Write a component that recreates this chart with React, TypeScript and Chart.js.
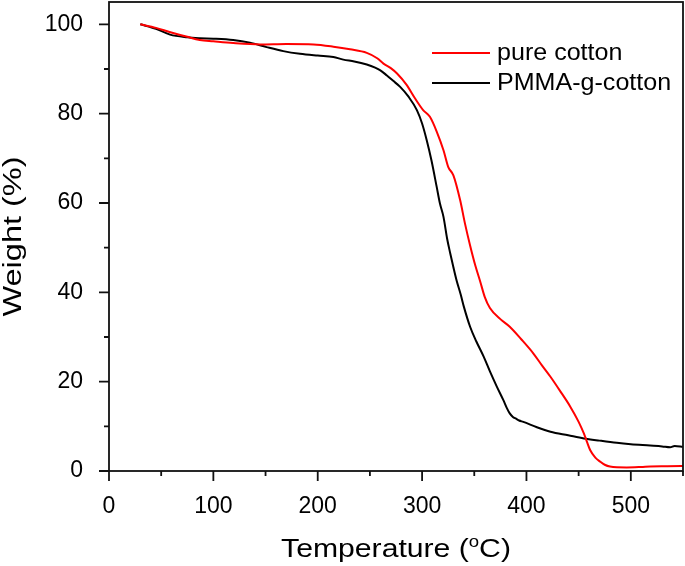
import React, { useEffect, useRef } from "react";
import { Chart, registerables } from "chart.js";

Chart.register(...registerables);

const FONT = "'Liberation Sans', Arial, Helvetica, sans-serif";

// Temperature (°C) / Weight (%)
const pureCottonTemp = [
  30, 45, 58, 75, 87, 100, 119, 145, 170, 196, 215, 231, 247, 257, 263, 270, 276, 285, 293, 301,
  307.5, 314, 320.5, 325, 330, 336.5, 341, 346, 351, 355.6, 360, 365, 375, 384, 395, 406.7, 415,
  423, 432, 442, 450, 455, 458, 461, 466, 470.6, 475, 480, 496, 510, 518.5, 535, 550,
];
const pureCottonWeight = [
  100, 99.2, 98.3, 97.2, 96.5, 96.2, 95.8, 95.5, 95.6, 95.5, 95.0, 94.4, 93.6, 92.4, 91.2, 90.2,
  89.0, 86.5, 83.5, 80.8, 79.3, 76.0, 71.8, 68.1, 66.2, 60.6, 55.5, 50.5, 46.0, 42.5, 39.0, 36.5,
  34.0, 32.3, 29.5, 26.3, 23.6, 21.1, 18.0, 14.4, 11.0, 8.4, 6.5, 4.7, 3.0, 2.1, 1.4, 1.0, 0.8,
  0.9, 1.0, 1.05, 1.1,
];

const pmmaTemp = [
  30, 45, 58.5, 75, 87, 100, 119, 135, 151, 167, 183, 200, 215, 224.5, 235, 247, 255, 260, 266,
  272, 279, 287, 295, 300, 304.5, 309, 314, 317, 320.5, 324, 327, 330, 333, 337, 340, 346, 352,
  359, 365, 371.6, 378, 381, 384, 387, 390, 393, 397, 410, 423, 440, 455, 470, 486.6, 500, 518.5,
  530, 537.7, 542, 550,
];
const pmmaWeight = [
  100, 99.0, 97.7, 97.1, 96.9, 96.8, 96.5, 95.9, 94.9, 94.0, 93.4, 93.0, 92.7, 92.1, 91.7, 91.0,
  90.3, 89.7, 88.6, 87.4, 86.0, 83.8, 80.8, 77.8, 74.0, 69.5, 63.6, 60.0, 56.9, 52.0, 48.7, 45.6,
  42.7, 39.5, 36.8, 32.3, 29.0, 25.6, 22.3, 18.9, 15.8, 14.2, 12.9, 12.1, 11.7, 11.3, 11.0, 9.8,
  8.8, 8.0, 7.3, 6.8, 6.3, 6.0, 5.7, 5.5, 5.3, 5.6, 5.4,
];

const seriesLabels = ["pure cotton", "PMMA-g-cotton"];
const seriesColors = ["#ff0000", "#000000"];

const xMin = 0;
const xMax = 550;
const yMin = 0;
const yMax = 105;

const toPoints = (xs: number[], ys: number[]) => xs.map((x, i) => ({ x, y: ys[i] }));

function drawStretched(ctx: any, text: string, x: number, y: number, sx: number) {
  ctx.save();
  ctx.translate(x, y);
  ctx.scale(sx, 1);
  ctx.fillText(text, 0, 0);
  ctx.restore();
}

const framePlugin = {
  id: "frameAndExtras",
  afterDraw(chart: any) {
    const { ctx, chartArea, scales } = chart;
    const { left, right, top, bottom } = chartArea;
    ctx.save();
    ctx.strokeStyle = "#111";
    ctx.lineWidth = 1.8;
    ctx.strokeRect(left, top, right - left, bottom - top);

    // ticks
    ctx.beginPath();
    scales.y.ticks.forEach((t: any) => {
      const v = t.value;
      if (v % 10 !== 0 || v > 100) return;
      const p = scales.y.getPixelForValue(v);
      const len = v % 20 === 0 ? 10 : 5;
      ctx.moveTo(left, p);
      ctx.lineTo(left - len, p);
    });
    scales.x.ticks.forEach((t: any) => {
      const v = t.value;
      if (v % 50 !== 0) return;
      const p = scales.x.getPixelForValue(v);
      const len = v % 100 === 0 ? 10 : 5;
      ctx.moveTo(p, bottom);
      ctx.lineTo(p, bottom + len);
    });
    ctx.stroke();

    // legend
    const lx0 = left + 323;
    const lx1 = left + 381;
    const ly0 = top + 51;
    chart.data.datasets.forEach((ds: any, i: number) => {
      const y = ly0 + i * 30;
      ctx.strokeStyle = ds.borderColor;
      ctx.lineWidth = 2.2;
      ctx.beginPath();
      ctx.moveTo(lx0, y);
      ctx.lineTo(lx1, y);
      ctx.stroke();
      ctx.fillStyle = "#000";
      ctx.font = `23px ${FONT}`;
      ctx.textAlign = "left";
      ctx.textBaseline = "middle";
      drawStretched(ctx, ds.label, lx1 + 7, y + 1, 1.09);
    });

    // x title with superscript o
    const cx = (left + right) / 2;
    const base = bottom + 86;
    const sx = 1.16;
    ctx.fillStyle = "#000";
    ctx.textBaseline = "alphabetic";
    ctx.textAlign = "left";
    const big = `26px ${FONT}`;
    const small = `16px ${FONT}`;
    const part1 = "Temperature (";
    const sup = "o";
    const part2 = "C)";
    ctx.font = big;
    const w1 = ctx.measureText(part1).width * sx;
    const w3 = ctx.measureText(part2).width * sx;
    ctx.font = small;
    const w2 = ctx.measureText(sup).width * sx;
    let x = cx - (w1 + w2 + w3) / 2;
    ctx.font = big;
    drawStretched(ctx, part1, x, base, sx);
    x += w1;
    ctx.font = small;
    drawStretched(ctx, sup, x, base - 10, sx);
    x += w2;
    ctx.font = big;
    drawStretched(ctx, part2, x, base, sx);

    // y title
    ctx.save();
    ctx.translate(21, (top + bottom) / 2);
    ctx.rotate(-Math.PI / 2);
    ctx.scale(1.25, 1);
    ctx.textAlign = "center";
    ctx.textBaseline = "alphabetic";
    ctx.font = big;
    ctx.fillText("Weight (%)", 0, 0);
    ctx.restore();

    ctx.restore();
  },
};

const zeroPadding = (s: any) => {
  s.paddingTop = 0;
  s.paddingBottom = 0;
  s.paddingLeft = 0;
  s.paddingRight = 0;
};

export default function App() {
  const ref = useRef<HTMLCanvasElement | null>(null);
  useEffect(() => {
    document.body.style.margin = "0";
    const canvas = ref.current;
    if (!canvas) return;
    const chart = new Chart(canvas, {
      type: "line",
      data: {
        datasets: [
          {
            label: seriesLabels[0],
            data: toPoints(pureCottonTemp, pureCottonWeight),
            borderColor: seriesColors[0],
            backgroundColor: seriesColors[0],
            borderWidth: 2,
            pointRadius: 0,
            cubicInterpolationMode: "monotone",
          },
          {
            label: seriesLabels[1],
            data: toPoints(pmmaTemp, pmmaWeight),
            borderColor: seriesColors[1],
            backgroundColor: seriesColors[1],
            borderWidth: 2,
            pointRadius: 0,
            cubicInterpolationMode: "monotone",
          },
        ],
      },
      options: {
        responsive: false,
        animation: false,
        devicePixelRatio: 1,
        layout: { padding: { top: 2, right: 2, left: 0, bottom: 0 } },
        plugins: { legend: { display: false }, tooltip: { enabled: false } },
        scales: {
          x: {
            type: "linear",
            min: xMin,
            max: xMax,
            grid: { display: false },
            border: { display: false },
            ticks: {
              stepSize: 50,
              autoSkip: false,
              maxRotation: 0,
              padding: 14,
              color: "#000",
              font: { family: FONT, size: 23 },
              callback: (v: any) => (v % 100 === 0 ? String(v) : ""),
            },
            afterFit: (s: any) => {
              s.height = 95;
              zeroPadding(s);
            },
          },
          y: {
            type: "linear",
            min: yMin,
            max: yMax,
            grid: { display: false },
            border: { display: false },
            ticks: {
              stepSize: 10,
              includeBounds: false,
              autoSkip: false,
              padding: 18,
              color: "#000",
              font: { family: FONT, size: 23 },
              callback: (v: any) => (v % 20 === 0 && v <= 100 ? String(v) : ""),
            },
            afterFit: (s: any) => {
              s.width = 109;
              zeroPadding(s);
            },
          },
        },
      },
      plugins: [framePlugin],
    } as any);
    return () => chart.destroy();
  }, []);
  return (
    <div style={{ position: "absolute", left: 0, top: 0, width: 685, height: 566 }}>
      <canvas ref={ref} width={685} height={566} style={{ width: 685, height: 566 }} />
    </div>
  );
}
